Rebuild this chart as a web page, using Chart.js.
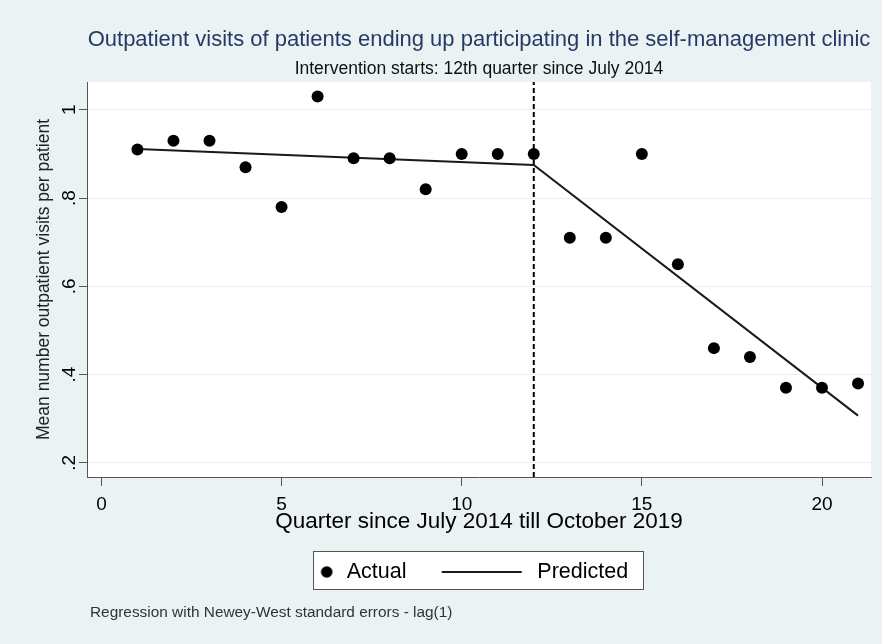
<!DOCTYPE html>
<html>
<head>
<meta charset="utf-8">
<script src="https://cdn.jsdelivr.net/npm/chart.js@4.4.1/dist/chart.umd.min.js"></script>
<style>
  html, body { margin: 0; padding: 0; background: #eaf2f3; }
  canvas { display: block; }
</style>
</head>
<body>
<canvas id="mycanvas" width="882" height="644"></canvas>
<script>
// data
var quarters = [1, 2, 3, 4, 5, 6, 7, 8, 9, 10, 11, 12, 13, 14, 15, 16, 17, 18, 19, 20, 21];
var actualVisits = [0.91, 0.93, 0.93, 0.87, 0.78, 1.03, 0.89, 0.89, 0.82, 0.90, 0.90,
                    0.90, 0.71, 0.71, 0.90, 0.65, 0.46, 0.44, 0.37, 0.37, 0.38];
var predictedQuarters = [1, 12, 21];
var predictedVisits = [0.911, 0.875, 0.307];
var interventionQuarter = 12;

var xTickValues = [0, 5, 10, 15, 20];
var yTickValues = [0.2, 0.4, 0.6, 0.8, 1];
var yTickLabels = ['.2', '.4', '.6', '.8', '1'];
var xRange = [-0.40, 21.36];
var yRange = [0.168, 1.063];

var footnote = 'Regression with Newey-West standard errors - lag(1)';

Chart.defaults.font.family = '"Liberation Sans", Arial, sans-serif';

// legend symbols (dot / long line like Stata)
function legendMarker(w, draw) {
  var c = document.createElement('canvas');
  c.width = w;
  c.height = 20;
  draw(c.getContext('2d'));
  return c;
}
var actualMarker = legendMarker(90, function(g) {
  g.fillStyle = '#000';
  g.beginPath();
  g.arc(82.3, 10, 5.8, 0, Math.PI * 2);
  g.fill();
});
var predictedMarker = legendMarker(90, function(g) {
  g.strokeStyle = '#1a1a1a';
  g.lineWidth = 2;
  g.beginPath();
  g.moveTo(6.7, 10);
  g.lineTo(86.7, 10);
  g.stroke();
});

var backdrop = {
  id: 'backdrop',
  beforeDraw: function(chart) {
    var ctx = chart.ctx, a = chart.chartArea;
    ctx.save();
    ctx.fillStyle = '#eaf2f3';
    ctx.fillRect(0, 0, chart.width, chart.height);
    ctx.fillStyle = '#ffffff';
    ctx.fillRect(a.left, a.top, a.right - a.left, a.bottom - a.top);
    // legend frame
    var hb = chart.legend.legendHitBoxes;
    if (hb && hb.length == 2) {
      var left = hb[0].left + 70.4;
      var right = hb[1].left + hb[1].width + 15.2;
      var top = hb[0].top - 10.3;
      var bottom = hb[0].top + 28;
      ctx.fillStyle = '#ffffff';
      ctx.fillRect(left, top, right - left, bottom - top);
      ctx.strokeStyle = '#555';
      ctx.lineWidth = 1;
      ctx.strokeRect(Math.round(left) + 0.5, Math.round(top) + 0.5, Math.round(right - left), Math.round(bottom - top));
    }
    ctx.restore();
  },
  afterDraw: function(chart) {
    var ctx = chart.ctx;
    ctx.save();
    ctx.font = '15.4px "Liberation Sans", Arial, sans-serif';
    ctx.fillStyle = '#333';
    ctx.textBaseline = 'alphabetic';
    ctx.fillText(footnote, 90, 616.5);
    ctx.restore();
  }
};

var ctx = document.getElementById('mycanvas');

var chart = new Chart(ctx, {
  type: 'scatter',
  data: {
    datasets: [
      {
        label: 'Actual',
        data: quarters.map(function(q, i) { return {x: q, y: actualVisits[i]}; }),
        backgroundColor: '#000',
        borderColor: '#000',
        borderWidth: 0,
        pointRadius: 6,
        pointHoverRadius: 6,
        order: 0
      },
      {
        label: 'Predicted',
        type: 'line',
        data: predictedQuarters.map(function(q, i) { return {x: q, y: predictedVisits[i]}; }),
        borderColor: '#1a1a1a',
        borderWidth: 2,
        pointRadius: 0,
        fill: false,
        tension: 0,
        order: 1
      },
      {
        label: 'intervention',
        type: 'line',
        data: [{x: interventionQuarter, y: yRange[0]}, {x: interventionQuarter, y: yRange[1]}],
        borderColor: '#000',
        borderWidth: 2,
        borderDash: [5, 3],
        pointRadius: 0,
        fill: false,
        order: 2
      }
    ]
  },
  options: {
    responsive: false,
    animation: false,
    devicePixelRatio: 1,
    layout: { padding: { left: 0, right: 11, top: 0, bottom: 51.25 } },
    scales: {
      x: {
        type: 'linear',
        min: xRange[0],
        max: xRange[1],
        afterBuildTicks: function(s) { s.ticks = xTickValues.map(function(v) { return {value: v}; }); },
        afterFit: function(s) { s.height = 57.2; },
        grid: { drawOnChartArea: false, tickLength: 9, tickColor: '#555', tickWidth: 1 },
        border: { color: '#555', width: 1 },
        ticks: {
          color: '#000', font: { size: 19 }, padding: 7, maxRotation: 0, autoSkip: false,
          callback: function(v) { return String(v); }
        },
        title: {
          display: true,
          text: 'Quarter since July 2014 till October 2019',
          color: '#000',
          font: { size: 22.5, lineHeight: '24.4px' },
          padding: 0
        }
      },
      y: {
        min: yRange[0],
        max: yRange[1],
        afterBuildTicks: function(s) { s.ticks = yTickValues.map(function(v) { return {value: v}; }); },
        afterFit: function(s) { s.width = 87; },
        grid: { color: '#e8f0f1', lineWidth: 1, tickLength: 8, tickColor: '#555' },
        border: { color: '#555', width: 1 },
        ticks: {
          color: '#000', font: { size: 19 }, padding: 1, minRotation: 90, maxRotation: 90,
          crossAlign: 'center', autoSkip: false,
          callback: function(v, i) { return yTickLabels[i]; }
        },
        title: {
          display: true,
          text: 'Mean number outpatient visits per patient',
          color: '#222',
          font: { size: 17.5 },
          padding: { top: 33.5, bottom: 0 }
        }
      }
    },
    plugins: {
      title: {
        display: true,
        fullSize: false,
        text: 'Outpatient visits of patients ending up participating in the self-management clinic',
        color: '#263a66',
        font: { size: 22, weight: 'normal' },
        padding: { top: 26.8, bottom: 5.3 }
      },
      subtitle: {
        display: true,
        fullSize: false,
        text: 'Intervention starts: 12th quarter since July 2014',
        color: '#111',
        font: { size: 17.5, weight: 'normal' },
        padding: { top: 0, bottom: 2.5 }
      },
      legend: {
        position: 'bottom',
        labels: {
          usePointStyle: true,
          pointStyleWidth: 93.05,
          padding: 27.05,
          color: '#000',
          font: { size: 21.5 },
          filter: function(item) { return item.datasetIndex !== 2; },
          generateLabels: function(chart) {
            var items = Chart.defaults.plugins.legend.labels.generateLabels(chart);
            items.forEach(function(it) {
              it.pointStyle = it.datasetIndex === 0 ? actualMarker : predictedMarker;
            });
            return items;
          }
        }
      },
      tooltip: { enabled: false }
    }
  },
  plugins: [backdrop]
});
</script>
</body>
</html>
